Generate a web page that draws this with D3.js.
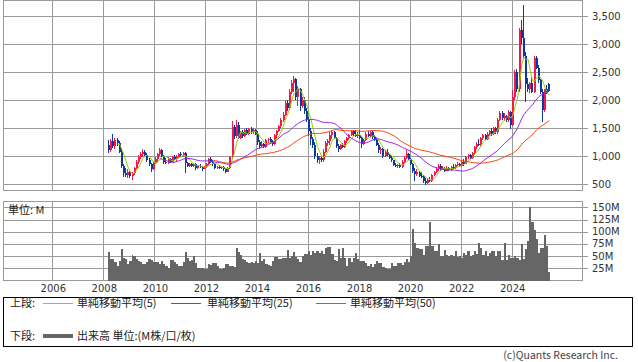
<!DOCTYPE html>
<html><head><meta charset="utf-8">
<script src="https://cdn.jsdelivr.net/npm/d3@7"></script>
<style>
html,body{margin:0;padding:0;background:#fff;}
svg{display:block;}
.num{font-family:"DejaVu Sans",sans-serif;font-size:10px;fill:#333;}
.jp{font-family:"Noto Sans CJK JP",sans-serif;font-size:11px;fill:#222;}
.copy{font-family:"Noto Sans CJK JP",sans-serif;font-size:10.5px;fill:#444;}
</style></head><body>
<svg id="chart" width="638" height="362"></svg>
<script>
// ---- data ----
const firstMonth = [2008, 3];   // Mar 2008
const lastMonth  = [2025, 6];   // Jun 2025
// monthly candles: [open, high, low, close]
const candles = [
  // 2008 (Mar-Dec)
  [1200,1280,1050,1100],[1100,1300,1080,1260],[1260,1400,1150,1180],[1180,1320,1120,1280],[1280,1330,1180,1230],[1230,1260,1050,1080],[1080,1120,780,820],[820,860,620,700],[700,780,620,660],[660,760,600,720],
  // 2009
  [720,740,600,650],[650,720,580,690],[690,800,660,780],[780,920,760,900],[900,1020,860,990],[990,1080,940,1040],[1040,1120,980,1080],[1080,1110,980,1020],[1020,1050,900,930],[930,960,820,860],[860,880,720,760],[760,900,750,880],
  // 2010
  [880,980,860,950],[950,1060,900,1030],[1030,1150,1000,1100],[1100,1120,980,1000],[1000,1020,860,900],[900,960,850,870],[870,980,860,950],[950,970,880,900],[900,1000,890,980],[980,1020,920,940],[940,1010,900,990],[990,1060,960,1040],
  // 2011
  [1040,1080,980,1020],[1020,1080,990,1060],[1060,1070,700,880],[880,900,800,830],[830,880,800,860],[860,870,800,820],[820,880,810,860],[860,870,750,790],[790,840,760,820],[820,850,780,800],[800,820,740,770],[770,820,760,800],
  // 2012
  [800,880,780,860],[860,960,840,940],[940,990,880,900],[900,920,820,850],[850,870,760,790],[790,830,760,800],[800,840,770,790],[790,830,770,810],[810,830,740,760],[760,780,690,720],[720,800,710,780],[780,1000,770,980],
  // 2013
  [980,1620,960,1520],[1520,1560,1300,1350],[1350,1640,1320,1560],[1560,1600,1300,1330],[1330,1450,1300,1420],[1420,1460,1320,1360],[1360,1480,1340,1460],[1460,1500,1380,1400],[1400,1500,1380,1480],[1480,1510,1400,1420],[1420,1500,1400,1460],[1460,1480,1380,1400],
  // 2014
  [1400,1450,1200,1250],[1250,1280,1120,1180],[1180,1260,1140,1220],[1220,1240,1140,1160],[1160,1300,1150,1280],[1280,1320,1240,1300],[1300,1340,1220,1250],[1250,1280,1180,1220],[1220,1400,1200,1380],[1380,1460,1300,1440],[1440,1560,1420,1540],[1540,1680,1500,1640],
  // 2015
  [1640,1780,1600,1740],[1740,1980,1720,1950],[1950,2000,1800,1850],[1850,2200,1830,2150],[2150,2350,2100,2300],[2300,2420,2150,2380],[2380,2400,2000,2050],[2050,2250,1900,2200],[2200,2220,1800,1900],[1900,2050,1850,2000],[2000,2050,1750,1800],[1800,1850,1600,1650],
  // 2016
  [1650,1700,1350,1450],[1450,1500,1200,1300],[1300,1340,1150,1200],[1200,1250,950,1000],[1000,1050,880,920],[920,1000,860,960],[960,980,890,920],[920,1120,900,1080],[1080,1260,1060,1230],[1230,1300,1180,1270],[1270,1420,1200,1380],[1380,1460,1300,1420],
  // 2017
  [1420,1440,1300,1320],[1320,1340,1150,1180],[1180,1220,1080,1120],[1120,1220,1100,1200],[1200,1230,1140,1160],[1160,1280,1150,1260],[1260,1340,1240,1320],[1320,1400,1280,1380],[1380,1460,1360,1440],[1440,1470,1360,1400],[1400,1460,1340,1360],[1360,1420,1320,1380],
  // 2018
  [1380,1460,1300,1320],[1320,1340,1140,1220],[1220,1300,1200,1280],[1280,1420,1260,1400],[1400,1440,1340,1360],[1360,1440,1340,1420],[1420,1440,1300,1340],[1340,1380,1260,1280],[1280,1320,1180,1200],[1200,1240,1060,1100],[1100,1160,1040,1120],[1120,1140,960,1000],
  // 2019
  [1000,1100,980,1080],[1080,1120,1000,1020],[1020,1040,940,960],[960,1000,900,920],[920,930,820,840],[840,880,800,820],[820,860,790,840],[840,880,780,800],[800,920,790,900],[900,1000,880,960],[960,1100,940,1040],[1040,1060,920,940],
  // 2020
  [940,960,840,860],[860,880,700,740],[740,780,560,680],[680,760,640,720],[720,740,620,650],[650,720,600,640],[640,660,520,560],[560,600,490,520],[520,600,500,580],[580,620,530,550],[550,680,540,660],[660,740,640,720],
  // 2021
  [720,800,700,760],[760,860,740,820],[820,860,740,760],[760,830,750,790],[790,810,720,740],[740,820,730,790],[790,810,730,750],[750,830,740,800],[800,850,760,780],[780,860,770,840],[840,900,820,860],[860,880,800,820],
  // 2022
  [820,920,800,900],[900,940,830,860],[860,1000,850,980],[980,1040,940,1020],[1020,1040,940,960],[960,1080,950,1060],[1060,1180,1040,1160],[1160,1250,1120,1220],[1220,1300,1180,1200],[1200,1340,1180,1320],[1320,1400,1280,1380],[1380,1400,1280,1300],
  // 2023
  [1300,1420,1280,1400],[1400,1460,1360,1440],[1440,1500,1360,1400],[1400,1520,1380,1500],[1500,1520,1400,1420],[1420,1680,1400,1650],[1650,1800,1620,1760],[1760,1800,1640,1680],[1680,1760,1620,1720],[1720,1740,1600,1640],[1640,1820,1600,1780],[1780,1800,1480,1560],
  // 2024
  [1560,2180,1540,2050],[2050,2540,2000,2500],[2500,2560,2150,2200],[2200,3280,2150,3250],[3250,3420,3000,3100],[3100,3690,2750,2780],[2780,2850,1960,2280],[2280,2400,2150,2200],[2200,2330,2120,2300],[2300,2420,2120,2150],[2150,2780,2120,2750],[2750,2780,2550,2580],
  // 2025 (Jan-Jun)
  [2580,2620,2300,2350],[2350,2380,2100,2150],[2150,2200,1600,1820],[1820,2200,1780,2200],[2200,2260,2110,2120],[2280,2300,2140,2160]
];
// monthly volume, millions
const volume = [
  59,44,45,37,30,40,64,47,44,33,
  40,52,50,44,40,37,33,34,37,44,42,38,
  38,37,33,40,34,30,26,43,41,37,33,30,
  30,37,59,47,40,41,50,36,25,26,25,24,
  24,33,32,36,35,30,24,24,25,33,34,30,
  30,28,67,58,53,44,41,37,35,37,35,40,
  35,57,40,44,33,31,30,40,49,48,44,45,
  46,47,62,47,50,59,48,44,37,50,55,55,
  60,53,60,57,60,57,60,55,66,68,69,55,
  43,39,64,47,67,47,30,47,37,47,57,44,
  39,39,39,35,30,33,28,33,39,36,36,28,
  26,24,24,35,30,30,36,35,32,38,44,37,
  50,105,76,67,64,65,53,70,70,120,70,60,
  61,74,50,50,62,53,50,53,50,60,48,50,
  47,57,53,60,50,52,60,55,76,67,52,60,
  50,57,60,60,50,60,60,43,76,43,53,47,
  47,50,47,41,74,44,64,80,150,120,103,86,
  57,67,67,94,70,18
];
const priceTicks  = [500,1000,1500,2000,2500,3000,3500];
const volumeTicks = [25,50,75,100,125,150];
const yearTicks   = [2006,2008,2010,2012,2014,2016,2018,2020,2022,2024];
const maPeriods   = [5,25,50];
const maColors    = ["#99cc00","#9922ee","#ff4010"];
const maLabels    = ["単純移動平均(5)","単純移動平均(25)","単純移動平均(50)"];
const upColor = "#f5164a", downColor = "#0a3a9e", volColor = "#666666", gridColor = "#9a9a9a";

// ---- layout ----
const svg = d3.select("#chart");
const L = 3.5, R = 582.5;
const mainTop = 0.5, mainBot = 190.5;
const volTop = 201.5, volBot = 280.5;

// x: year gridlines 2008 -> 103.3, 2024 -> 511.7
const xRef = d3.scaleTime().domain([new Date(2008,0,1), new Date(2024,0,1)]).range([103.3, 511.7]);
const x = d3.scaleTime().domain([xRef.invert(L), xRef.invert(R)]).range([L, R]);
const y = d3.scaleLinear().domain([500, 3500]).range([184, 16]);
const yv = d3.scaleLinear().domain([0, 150]).range([volBot, 207.3]);

const months = d3.timeMonth.range(new Date(firstMonth[0], firstMonth[1]-1, 1), new Date(lastMonth[0], lastMonth[1], 1));
const slotStart = m => x(d3.timeDay.offset(m, 7));
const slotEnd = m => x(d3.timeDay.offset(d3.timeMonth.offset(m, 1), 7));
const rows = months.map((m, i) => ({
  m, x0: slotStart(m), x1: slotEnd(m), cx: (slotStart(m) + slotEnd(m)) / 2,
  o: candles[i][0], h: candles[i][1], l: candles[i][2], c: candles[i][3], v: volume[i]
}));

// ---- grids & frames ----
function grid(g, top, bot, hTicks, yScale) {
  g.selectAll("line.h").data(hTicks).join("line")
    .attr("x1", L).attr("x2", R)
    .attr("y1", d => Math.round(yScale(d)) + 0.5).attr("y2", d => Math.round(yScale(d)) + 0.5)
    .attr("stroke", gridColor);
  g.selectAll("line.t").data(hTicks).join("line")
    .attr("x1", R).attr("x2", R + 5)
    .attr("y1", d => Math.round(yScale(d)) + 0.5).attr("y2", d => Math.round(yScale(d)) + 0.5)
    .attr("stroke", gridColor);
  g.selectAll("line.v").data(yearTicks).join("line")
    .attr("x1", d => Math.round(x(new Date(d,0,1))) + 0.5).attr("x2", d => Math.round(x(new Date(d,0,1))) + 0.5)
    .attr("y1", top).attr("y2", bot).attr("stroke", gridColor);
  g.append("rect").attr("x", L).attr("y", top).attr("width", R - L).attr("height", bot - top)
    .attr("fill", "none").attr("stroke", gridColor);
}
const gMainGrid = svg.append("g").attr("shape-rendering", "crispEdges");
grid(gMainGrid, mainTop, mainBot, priceTicks, y);
const gVolGrid = svg.append("g").attr("shape-rendering", "crispEdges");
grid(gVolGrid, volTop, volBot, volumeTicks, yv);

// ---- axis labels ----
svg.append("g").selectAll("text").data(priceTicks).join("text")
  .attr("class", "num").attr("x", 592).attr("y", d => y(d)).attr("dy", "0.35em")
  .text(d => d3.format(",")(d));
svg.append("g").selectAll("text").data(volumeTicks).join("text")
  .attr("class", "num").attr("x", 592).attr("y", d => yv(d)).attr("dy", "0.35em")
  .text(d => d + "M");
svg.append("g").selectAll("text").data(yearTicks).join("text")
  .attr("class", "num").attr("x", d => x(new Date(d,0,1)) + 1).attr("y", 291.5)
  .attr("text-anchor", "middle").text(d => d);
svg.append("text").attr("class", "jp").attr("x", 8).attr("y", 210).attr("dy", "0.35em").text("単位: M");

// ---- volume bars ----
svg.append("g").attr("shape-rendering", "crispEdges").selectAll("rect").data(rows).join("rect")
  .attr("x", d => d.x0).attr("width", d => d.x1 - d.x0)
  .attr("y", d => yv(d.v)).attr("height", d => volBot - yv(d.v))
  .attr("fill", volColor);

// ---- candles ----
const gC = svg.append("g").attr("shape-rendering", "crispEdges");
gC.selectAll("rect.w").data(rows).join("rect")
  .attr("x", d => Math.round(d.cx - 1)).attr("width", 1)
  .attr("y", d => y(d.h)).attr("height", d => y(d.l) - y(d.h))
  .attr("fill", d => d.c >= d.o ? upColor : downColor);
gC.selectAll("rect.b").data(rows).join("rect")
  .attr("x", d => Math.round(d.cx - 1)).attr("width", 2)
  .attr("y", d => y(Math.max(d.o, d.c)))
  .attr("height", d => Math.max(1, Math.abs(y(d.o) - y(d.c))))
  .attr("fill", d => d.c >= d.o ? upColor : downColor);

// ---- moving averages ----
const closes = rows.map(d => d.c);
maPeriods.forEach((p, k) => {
  const pts = rows.map((d, i) => i >= p - 1 ? [d.cx, d3.mean(closes.slice(i - p + 1, i + 1))] : null).filter(Boolean);
  svg.append("path").datum(pts)
    .attr("d", d3.line().x(d => d[0]).y(d => y(d[1])))
    .attr("fill", "none").attr("stroke", maColors[k]).attr("stroke-width", 1);
});

// ---- legend ----
const lg = svg.append("g");
lg.append("rect").attr("x", 3.5).attr("y", 297.5).attr("width", 629).attr("height", 49)
  .attr("fill", "none").attr("stroke", "#000").attr("shape-rendering", "crispEdges");
lg.append("text").attr("class", "jp").attr("x", 10).attr("y", 303.5).attr("dy", "0.35em").text("上段:");
const legX = [[43, 73, 77], [171, 201, 207], [316, 346, 350]];
maLabels.forEach((t, k) => {
  lg.append("line").attr("x1", legX[k][0]).attr("x2", legX[k][1]).attr("y1", 303.5).attr("y2", 303.5)
    .attr("stroke", maColors[k]).attr("stroke-width", 1);
  lg.append("text").attr("class", "jp").attr("x", legX[k][2]).attr("y", 303.5).attr("dy", "0.35em").text(t);
});
lg.append("text").attr("class", "jp").attr("x", 10).attr("y", 336).attr("dy", "0.35em").text("下段:");
lg.append("line").attr("x1", 43).attr("x2", 73).attr("y1", 336).attr("y2", 336)
  .attr("stroke", volColor).attr("stroke-width", 4);
lg.append("text").attr("class", "jp").attr("x", 77).attr("y", 336).attr("dy", "0.35em").text("出来高 単位:(M株/口/枚)");

svg.append("text").attr("class", "copy").attr("x", 618).attr("y", 355.5).attr("dy", "0.35em")
  .attr("text-anchor", "end").text("(c)Quants Research Inc.");
</script>
</body></html>
